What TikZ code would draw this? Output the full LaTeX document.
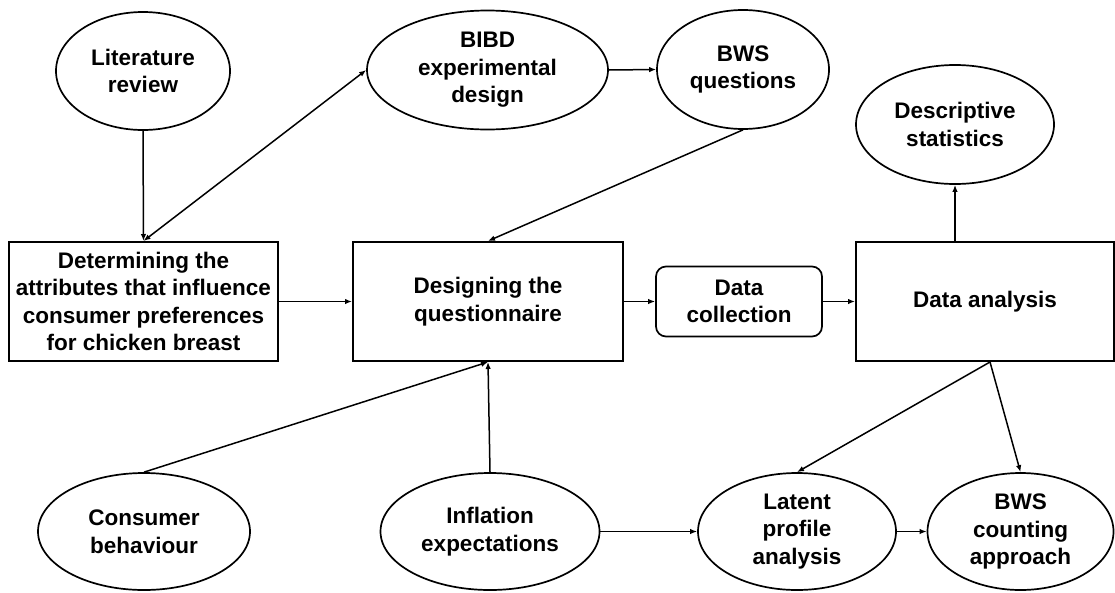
\documentclass[tikz,border=0pt]{standalone}
\usepackage{fontspec}
\setmainfont{Liberation Sans}
\usetikzlibrary{shapes.geometric,arrows.meta,calc}
\begin{document}
\begin{tikzpicture}[x=1pt,y=-1pt,
  every node/.style={font=\bfseries\fontsize{22.5}{27.5}\selectfont, align=center, inner sep=0pt},
  oval/.style={ellipse, draw, line width=1.7pt},
  box/.style={rectangle, draw, line width=2pt},
  rbox/.style={rectangle, rounded corners=10pt, draw, line width=1.7pt},
  arr/.style={-{Latex[length=7pt,width=5.5pt]}, line width=1.5pt}]
\useasboundingbox (0,0) rectangle (1115,592);
% top row
\node[oval, minimum width=174pt, minimum height=118pt] (lit) at (143,71) {Literature\\review};
\node[oval, minimum width=241pt, minimum height=119pt] (bibd) at (487.5,70) {BIBD\\experimental\\design};
\node[oval, minimum width=172pt, minimum height=119pt] (bwsq) at (743,69.5) {BWS\\questions};
\node[oval, minimum width=198pt, minimum height=119pt] (desc) at (955,124.5) {Descriptive\\statistics};
% middle row
\node[box, minimum width=269pt, minimum height=119pt] (det) at (143.5,301.5) {Determining the\\attributes that influence\\consumer preferences\\for chicken breast};
\node[box, minimum width=270pt, minimum height=119pt] (des) at (488,301.5) {Designing the\\questionnaire};
\node[rbox, minimum width=166pt, minimum height=70pt] (dc) at (739,301.5) {Data\\collection};
\node[box, minimum width=258pt, minimum height=119pt] (da) at (985,301.5) {Data analysis};
% bottom row
\node[oval, minimum width=212pt, minimum height=117pt] (cons) at (144,531.5) {Consumer\\behaviour};
\node[oval, minimum width=219pt, minimum height=117pt] (infl) at (490,531.5) {Inflation\\expectations};
\node[oval, minimum width=198pt, minimum height=117pt] (lat) at (797,531.5) {Latent\\profile\\analysis};
\node[oval, minimum width=186pt, minimum height=117pt] (bwsc) at (1020.5,531.5) {BWS\\counting\\approach};
% connectors
\draw[arr] (lit.south) -- (det.north);
\draw[arr, {Latex[length=7pt,width=5.5pt]}-{Latex[length=7pt,width=5.5pt]}] (det.north) -- (bibd.west);
\draw[arr] (bibd.east) -- (bwsq.west);
\draw[arr] (bwsq.south) -- (des.north);
\draw[arr] (det.east) -- (des.west);
\draw[arr] (des.east) -- (dc.west);
\draw[arr] (dc.east) -- (da.west);
\draw[arr] (da.north -| desc.south) -- (desc.south);
\draw[arr] (cons.north) -- (des.south);
\draw[arr] (infl.north) -- (des.south);
\draw[arr] (infl.east) -- (lat.west);
\draw[arr] (lat.east) -- (bwsc.west);
\draw[arr] ([xshift=5pt]da.south) -- (lat.north);
\draw[arr] ([xshift=5pt]da.south) -- (bwsc.north);
\end{tikzpicture}
\end{document}
